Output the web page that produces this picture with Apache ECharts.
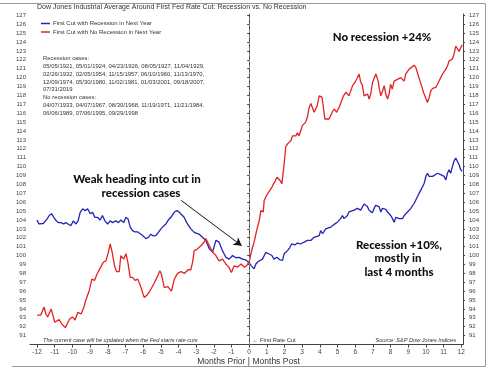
<!DOCTYPE html>
<html><head><meta charset="utf-8">
<script src="https://cdn.jsdelivr.net/npm/echarts@6/dist/echarts.min.js"></script>
<style>html,body{margin:0;padding:0;background:#fff}#c{width:500px;height:368px}</style>
</head><body><div id="c"></div>
<script>
const xTicks = [-12,-11,-10,-9,-8,-7,-6,-5,-4,-3,-2,-1,0,1,2,3,4,5,6,7,8,9,10,11,12];
const yTicks = [91,92,93,94,95,96,97,98,99,100,101,102,103,104,105,106,107,108,109,110,111,112,113,114,115,116,117,118,119,120,121,122,123,124,125,126,127];

const recMonths = [-12.0,-11.9,-11.8,-11.65,-11.44,-11.31,-11.18,-11.05,-10.95,-10.8,-10.65,-10.5,-10.38,-10.25,-10.09,-9.95,-9.8,-9.68,-9.56,-9.42,-9.28,-9.14,-8.99,-8.86,-8.73,-8.58,-8.43,-8.3,-8.16,-8.01,-7.86,-7.73,-7.54,-7.4,-7.26,-7.1,-6.97,-6.85,-6.73,-6.6,-6.47,-6.3,-6.16,-6.03,-5.84,-5.7,-5.56,-5.42,-5.28,-5.14,-4.99,-4.85,-4.71,-4.57,-4.43,-4.24,-4.09,-3.97,-3.86,-3.68,-3.58,-3.49,-3.3,-3.11,-2.97,-2.83,-2.64,-2.45,-2.35,-2.26,-2.07,-1.88,-1.7,-1.6,-1.51,-1.32,-1.13,-0.94,-0.75,-0.57,-0.38,-0.19,0.0,0.1,0.2,0.28,0.38,0.5,0.57,0.75,0.94,1.1,1.29,1.4,1.57,1.75,1.89,1.98,2.17,2.3,2.4,2.5,2.6,2.73,2.9,3.11,3.3,3.49,3.67,3.77,3.96,4.05,4.15,4.33,4.43,4.62,4.81,4.99,5.18,5.28,5.37,5.56,5.65,5.75,5.94,6.12,6.31,6.5,6.6,6.69,6.79,6.88,6.97,7.07,7.16,7.26,7.35,7.45,7.54,7.64,7.73,7.83,7.92,8.01,8.11,8.2,8.3,8.39,8.49,8.58,8.68,8.77,8.96,9.15,9.33,9.43,9.52,9.62,9.71,9.81,9.9,10.0,10.09,10.19,10.28,10.38,10.47,10.66,10.84,10.94,11.03,11.13,11.22,11.31,11.4,11.5,11.59,11.69,11.78,11.88,11.97,12.05];
const recValues = [104.0,103.55,103.7,103.6,104.1,104.5,104.7,104.3,104.0,103.7,103.7,103.55,103.7,103.55,103.35,103.9,103.55,103.9,104.85,105.25,105.05,105.25,104.7,104.85,104.3,104.3,104.0,104.5,103.9,103.55,103.9,103.7,103.9,103.7,104.0,103.7,104.3,104.1,103.2,102.8,102.65,102.65,102.45,102.25,101.9,102.05,102.4,102.2,102.25,102.6,103.0,103.3,103.55,104.0,104.3,104.86,105.05,104.9,104.7,104.3,103.9,103.55,103.0,102.6,102.5,102.4,102.05,101.7,101.2,100.75,100.4,101.7,101.5,101.0,100.55,99.8,99.6,100.0,99.75,99.8,99.6,99.5,99.2,98.9,98.7,98.5,99.05,99.3,99.45,99.6,100.35,100.2,100.0,99.6,99.8,99.5,99.45,100.2,100.55,100.9,101.3,101.1,101.2,101.4,101.3,101.5,101.7,101.7,102.05,101.9,102.25,102.8,102.45,103.0,103.0,103.2,103.5,103.75,104.15,104.5,104.15,104.5,104.9,105.1,105.1,105.3,105.1,105.8,105.9,105.5,105.1,104.9,104.8,105.3,105.65,105.85,105.5,104.9,105.3,105.1,105.2,104.9,105.1,104.5,104.15,103.75,104.3,104.5,104.15,104.3,104.15,104.5,104.9,105.3,105.85,106.25,106.6,106.8,107.35,107.55,108.1,108.9,109.25,108.9,109.1,108.9,109.1,109.25,109.1,109.25,108.9,108.5,109.25,109.65,109.25,110.0,110.6,110.95,110.6,110.2,109.65,109.45];

const noRecMonths = [-12.0,-11.9,-11.8,-11.6,-11.5,-11.4,-11.2,-11.1,-11.0,-10.9,-10.75,-10.6,-10.4,-10.3,-10.15,-10.0,-9.85,-9.7,-9.5,-9.35,-9.25,-9.05,-8.9,-8.75,-8.6,-8.4,-8.25,-8.1,-7.97,-7.86,-7.75,-7.6,-7.5,-7.35,-7.26,-7.1,-6.97,-6.85,-6.73,-6.6,-6.45,-6.3,-6.12,-5.94,-5.8,-5.65,-5.4,-5.2,-5.05,-4.95,-4.8,-4.6,-4.4,-4.24,-4.05,-3.86,-3.65,-3.45,-3.3,-3.2,-3.11,-2.95,-2.73,-2.55,-2.45,-2.3,-2.07,-1.9,-1.7,-1.5,-1.32,-1.15,-1.0,-0.85,-0.65,-0.45,-0.28,-0.15,0.0,0.1,0.19,0.28,0.38,0.47,0.57,0.66,0.75,0.8,0.85,0.97,1.1,1.2,1.29,1.38,1.48,1.57,1.67,1.76,1.85,1.98,2.07,2.17,2.26,2.36,2.45,2.55,2.64,2.73,2.82,2.92,3.01,3.11,3.2,3.3,3.39,3.49,3.55,3.68,3.75,3.85,3.96,4.05,4.12,4.21,4.28,4.38,4.52,4.7,4.81,4.95,5.09,5.2,5.34,5.47,5.55,5.65,5.75,5.85,5.98,6.09,6.22,6.3,6.41,6.5,6.6,6.7,6.79,6.88,6.98,7.07,7.17,7.22,7.3,7.37,7.45,7.55,7.64,7.73,7.83,7.92,8.0,8.1,8.2,8.3,8.39,8.49,8.58,8.68,8.77,8.86,8.96,9.05,9.18,9.34,9.43,9.52,9.67,9.81,9.9,10.0,10.09,10.19,10.28,10.38,10.47,10.56,10.66,10.75,10.84,10.94,11.03,11.13,11.22,11.31,11.4,11.5,11.59,11.69,11.78,11.88,11.97,12.05];
const noRecValues = [93.3,93.1,93.3,94.2,93.4,93.1,94.0,94.0,92.5,92.7,92.8,92.3,91.9,91.75,92.9,93.1,92.75,93.6,93.45,94.2,94.95,96.05,97.35,97.2,97.95,98.7,99.25,99.4,100.35,101.3,100.35,98.7,98.2,98.2,100.0,99.6,100.2,99.1,97.55,97.55,97.2,97.35,96.4,95.3,95.5,95.9,96.8,97.6,98.3,97.8,96.4,96.5,96.0,97.3,98.0,98.2,98.0,98.4,98.4,99.25,100.55,100.7,101.1,101.5,101.9,101.3,100.4,100.05,99.4,99.6,99.05,98.7,98.1,98.85,98.7,99.05,98.7,98.85,99.3,100.2,100.9,101.5,102.4,103.2,103.9,105.05,105.2,104.9,106.2,106.7,107.1,107.0,107.7,108.05,108.4,108.8,108.95,108.4,108.05,110.3,112.2,112.55,112.4,112.9,113.45,113.65,113.45,113.8,113.45,114.05,114.6,114.8,115.0,115.6,116.6,117.1,116.9,116.1,115.9,116.85,117.95,118.15,117.8,116.5,115.35,115.55,115.35,116.1,116.5,116.1,116.65,116.85,117.95,118.35,118.5,117.95,118.15,119.1,119.45,119.85,120.4,119.6,119.1,117.95,117.95,118.15,117.6,118.15,119.45,119.9,120.4,120.2,119.6,118.7,117.95,118.5,119.1,118.15,117.6,118.15,119.25,118.7,119.6,119.45,119.8,119.6,120.0,119.8,119.6,120.4,120.2,120.95,121.15,121.4,121.15,120.55,119.6,118.7,118.15,117.95,117.2,117.8,118.5,118.8,118.7,118.9,119.25,119.65,120.0,120.4,120.55,120.95,121.3,121.85,122.05,122.1,122.6,123.55,123.7,122.95,123.35,123.7];

const recName = 'First Cut with Recession in Next Year';
const noRecName = 'First Cut with No Recession in Next Year';
const casesLines = [
  'Recession cases:',
  '05/05/1921, 05/01/1924, 04/23/1926, 08/05/1927, 11/04/1929,',
  '02/26/1932, 02/05/1954, 11/15/1957, 06/10/1960, 11/13/1970,',
  '12/09/1974, 05/30/1980, 11/02/1981, 01/03/2001, 09/18/2007,',
  '07/31/2019',
  'No recession cases:',
  '04/07/1933, 04/07/1967, 08/30/1968, 11/19/1971, 11/21/1984,',
  '06/06/1989, 07/06/1995, 09/29/1998'
];
const casesY = [58.3, 66, 74, 82, 89.6, 97.3, 105.5, 113.5];

const chart = echarts.init(document.getElementById('c'), null, {renderer: 'canvas'});
const pair = (xs, ys) => xs.map((x, i) => [x, ys[i]]);
const axisCol = '#444';
const lblFont = '"Liberation Sans", Arial, sans-serif';
const boldFont = 'Lato, "Open Sans", sans-serif';
const annFont = '900 11.5px ' + boldFont;

function yAxisCfg(pos, margin) {
  return {
    type: 'value', position: pos, min: 90, max: 127.15,
    axisLine: {show: true, lineStyle: {color: axisCol, width: 1}},
    axisTick: {show: true, length: 2, customValues: yTicks, lineStyle: {color: axisCol}},
    axisLabel: {customValues: yTicks, fontSize: 6, color: '#444', margin: margin, fontFamily: lblFont},
    splitLine: {show: false}
  };
}

const graphics = [
  {type: 'polyline', shape: {points: [[0, 3.5], [485.5, 3.5], [485.5, 366.5], [12, 366.5]]}, style: {stroke: '#999', lineWidth: 1, fill: null}, silent: true},
  {type: 'text', x: 37, y: 7.5, style: {text: 'Dow Jones Industrial Average Around First Fed Rate Cut: Recession vs. No Recession', font: '7px ' + lblFont, fill: '#333', verticalAlign: 'middle'}},
  {type: 'text', x: 382, y: 37.5, style: {text: 'No recession +24%', font: annFont, fill: '#111', align: 'center', verticalAlign: 'middle'}},
  {type: 'text', x: 137, y: 179.5, style: {text: 'Weak heading into cut in', font: annFont, fill: '#111', align: 'center', verticalAlign: 'middle'}},
  {type: 'text', x: 141, y: 193.5, style: {text: 'recession cases', font: annFont, fill: '#111', align: 'center', verticalAlign: 'middle'}},
  {type: 'text', x: 399, y: 245, style: {text: 'Recession +10%,', font: annFont, fill: '#111', align: 'center', verticalAlign: 'middle'}},
  {type: 'text', x: 398, y: 258.5, style: {text: 'mostly in', font: annFont, fill: '#111', align: 'center', verticalAlign: 'middle'}},
  {type: 'text', x: 399, y: 272.5, style: {text: 'last 4 months', font: annFont, fill: '#111', align: 'center', verticalAlign: 'middle'}},
  {type: 'text', x: 43, y: 340.5, style: {text: 'The current case will be updated when the Fed starts rate cuts', font: 'italic 5.6px ' + lblFont, fill: '#333', verticalAlign: 'middle'}},
  {type: 'text', x: 456, y: 340.5, style: {text: 'Source: S&P Dow Jones Indices', font: 'italic 5.6px ' + lblFont, fill: '#333', align: 'right', verticalAlign: 'middle'}},
  {type: 'text', x: 252.5, y: 340.5, style: {text: '\u2190 First Rate Cut', font: '5.8px ' + lblFont, fill: '#333', verticalAlign: 'middle'}},
  {type: 'text', x: 250, y: 361.5, style: {text: 'Months Prior |', font: '8.5px ' + lblFont, fill: '#333', align: 'right', verticalAlign: 'middle'}},
  {type: 'text', x: 252.5, y: 361.5, style: {text: 'Months Post', font: '8.5px ' + lblFont, fill: '#333', verticalAlign: 'middle'}}
];
casesLines.forEach((t, i) => graphics.push({type: 'text', x: 43, y: casesY[i], style: {text: t, font: '5.9px ' + lblFont, fill: '#333', verticalAlign: 'middle'}}));

chart.setOption({
  animation: false,
  backgroundColor: '#fff',
  grid: {left: 30, right: 37, top: 14, bottom: 23.5, containLabel: false},
  legend: {
    orient: 'vertical', left: 41, top: 20, itemWidth: 9, itemHeight: 1.5, itemGap: 1.5, padding: 0,
    icon: 'rect',
    textStyle: {fontSize: 6, color: '#333', fontFamily: lblFont, lineHeight: 7, padding: [0, 0, 0, -2]},
    data: [recName, noRecName]
  },
  xAxis: {
    type: 'value', min: -12.4, max: 12.1,
    axisLine: {show: true, onZero: false, lineStyle: {color: axisCol, width: 1}},
    axisTick: {show: true, length: 3, customValues: xTicks, lineStyle: {color: axisCol}},
    axisLabel: {customValues: xTicks, fontSize: 6.5, color: '#444', margin: 4, fontFamily: lblFont},
    splitLine: {show: false}
  },
  yAxis: [yAxisCfg('left', 4), yAxisCfg('right', 6)],
  graphic: graphics,
  series: [
    {
      name: recName, type: 'line', data: pair(recMonths, recValues), showSymbol: false,
      lineStyle: {color: '#2424b4', width: 1.3}, itemStyle: {color: '#2424b4'},
      markLine: {
        silent: true, symbol: ['none', 'none'], label: {show: false},
        lineStyle: {color: '#888', type: [3, 3], width: 1},
        data: [{xAxis: 0}]
      }
    },
    {
      name: noRecName, type: 'line', data: pair(noRecMonths, noRecValues), showSymbol: false,
      lineStyle: {color: '#e42222', width: 1.3}, itemStyle: {color: '#e42222'},
      markLine: {
        silent: true, symbol: ['none', 'arrow'], symbolSize: [7, 8], label: {show: false},
        lineStyle: {color: '#111', type: 'solid', width: 1},
        data: [[{coord: [-3.85, 106.2]}, {coord: [-0.42, 101.1]}]]
      }
    }
  ]
});
</script></body></html>
